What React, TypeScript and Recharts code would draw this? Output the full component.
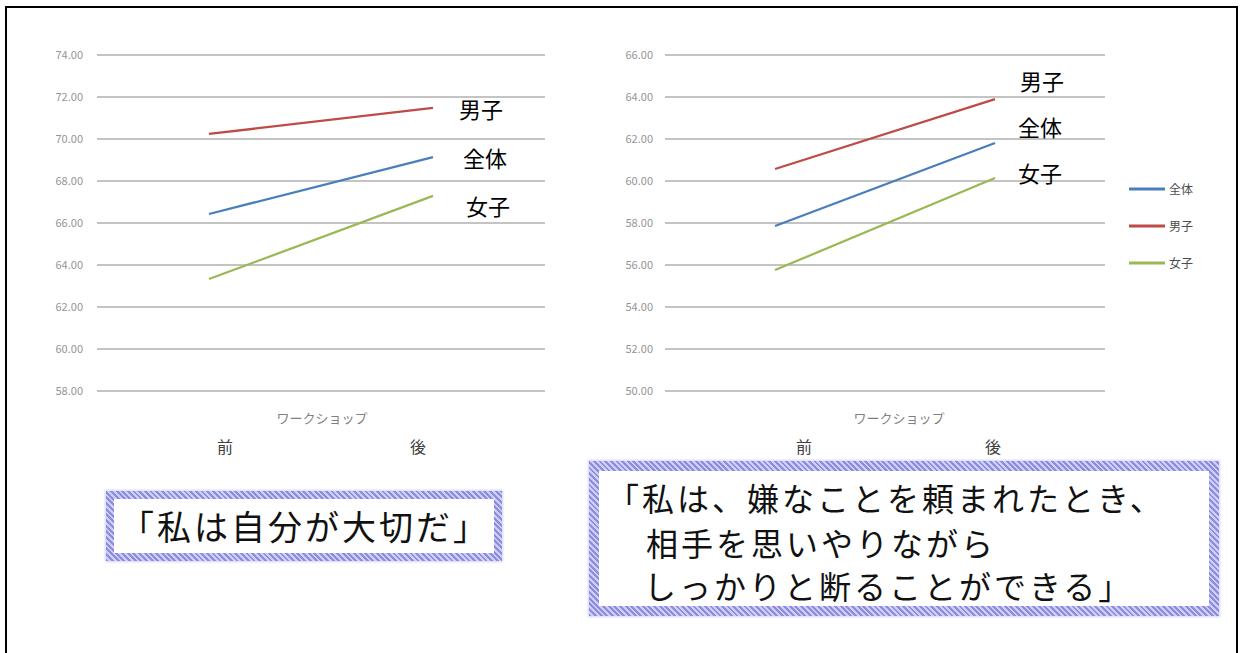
import React from 'react';
import { LineChart, Line, XAxis, YAxis, CartesianGrid, Legend, Label } from 'recharts';

const categories = ['前', '後'];
const seriesNames = ['全体', '男子', '女子'];

const leftZentai = [66.43, 69.14];
const leftDanshi = [70.24, 71.48];
const leftJoshi = [63.33, 67.29];
const leftTicks = [58, 60, 62, 64, 66, 68, 70, 72, 74];

const rightZentai = [57.86, 61.81];
const rightDanshi = [60.57, 63.9];
const rightJoshi = [55.76, 60.14];
const rightTicks = [50, 52, 54, 56, 58, 60, 62, 64, 66];

const axisTitle = 'ワークショップ';
const leftCaption = '「私は自分が大切だ」';
const rightCaption = ['「私は、嫌なことを頼まれたとき、', '相手を思いやりながら', 'しっかりと断ることができる」'];

const COLORS: Record<string, string> = { '全体': '#4a7ebb', '男子': '#be4b48', '女子': '#98b954' };
const FONT = '"Noto Sans CJK JP", "Noto Sans", sans-serif';

function buildData(z: number[], d: number[], j: number[]) {
  return categories.map((c, i) => ({ cat: c, '全体': z[i], '男子': d[i], '女子': j[i] }));
}

const leftData = buildData(leftZentai, leftDanshi, leftJoshi);
const rightData = buildData(rightZentai, rightDanshi, rightJoshi);

function endLabel(name: string, dx: number, dy: number) {
  return (p: any) => {
    if (p.index !== 1) return <g key={`d-${name}-${p.index}`} />;
    return (
      <g key={`d-${name}-${p.index}`}>
        <text x={p.cx + dx} y={p.cy + dy} textAnchor="middle" dominantBaseline="central" fontSize={22} fill="#000" fontFamily={FONT}>
          {name}
        </text>
      </g>
    );
  };
}

function catTick(shifts: number[]) {
  return (p: any) => (
    <text x={p.x + shifts[p.index]} y={p.y + 55} textAnchor="middle" dominantBaseline="central" fontSize={16} fill="#404040" fontFamily={FONT}>
      {p.payload.value}
    </text>
  );
}

const LegendContent = () => (
  <div style={{ fontFamily: FONT }}>
    {seriesNames.map((n) => (
      <div key={n} style={{ display: 'flex', alignItems: 'center', height: 37 }}>
        <svg width={38} height={6}>
          <line x1={1} y1={3} x2={37} y2={3} stroke={COLORS[n]} strokeWidth={3} />
        </svg>
        <span style={{ fontSize: 12, color: '#4d4d4d', marginLeft: 3 }}>{n}</span>
      </div>
    ))}
  </div>
);

type PanelProps = {
  data: any[];
  ticks: number[];
  width: number;
  yWidth: number;
  right: number;
  tickMargin: number;
  shifts: number[];
  titleDx: number;
  offsets: Record<string, [number, number]>;
  legend?: boolean;
};

function Panel({ data, ticks, width, yWidth, right, tickMargin, shifts, titleDx, offsets, legend }: PanelProps) {
  return (
    <LineChart width={width} height={470} data={data} margin={{ top: 55, right, bottom: 19, left: 0 }}>
      <CartesianGrid vertical={false} stroke="#c4c4c4" strokeWidth={2} />
      <XAxis dataKey="cat" scale="band" axisLine={false} tickLine={false} tickSize={0} tickMargin={0} height={60} tick={catTick(shifts)} interval={0}>
        <Label value={axisTitle} position="insideTop" offset={23} dx={titleDx} fontSize={13} fill="#808080" fontFamily={FONT} />
      </XAxis>
      <YAxis
        type="number"
        domain={[ticks[0], ticks[ticks.length - 1]]}
        ticks={ticks}
        width={yWidth}
        axisLine={false}
        tickLine={false}
        tickSize={0}
        tickMargin={tickMargin}
        tickFormatter={(v: number) => v.toFixed(2)}
        tick={{ fontSize: 11, fill: '#959595', fontFamily: FONT }}
      />
      {legend && (
        <Legend layout="vertical" align="center" verticalAlign="middle" content={<LegendContent />} wrapperStyle={{ left: 568, top: 170, width: 90, height: 120 }} />
      )}
      {seriesNames.map((n) => (
        <Line
          key={n}
          type="linear"
          dataKey={n}
          stroke={COLORS[n]}
          strokeWidth={2.25}
          dot={endLabel(n, offsets[n][0], offsets[n][1])}
          activeDot={false}
          isAnimationActive={false}
        />
      ))}
    </LineChart>
  );
}

const speckle: React.CSSProperties = {
  position: 'absolute',
  background: 'repeating-linear-gradient(45deg, #8c8ce0 0 2px, #cfcff5 2px 4px), #b4b4ec',
  padding: 8,
  boxSizing: 'border-box',
  boxShadow: '0 0 2px 1px #d4d4f6',
};

export default function App() {
  return (
    <div style={{ position: 'absolute', left: 0, top: 0, width: 1240, height: 653, overflow: 'hidden', background: '#fff', fontFamily: FONT }}>
      <div style={{ position: 'absolute', left: 5, top: 6, width: 1233, height: 670, border: '2px solid #000', boxSizing: 'border-box' }} />
      <div style={{ position: 'absolute', left: 0, top: 0 }}>
        <Panel
          data={leftData}
          ticks={leftTicks}
          width={560}
          yWidth={97}
          right={15}
          tickMargin={14}
          shifts={[16, -15]}
          titleDx={1}
          offsets={{ '男子': [48, 0], '全体': [52, 0], '女子': [55, 9] }}
        />
      </div>
      <div style={{ position: 'absolute', left: 560, top: 0 }}>
        <Panel
          data={rightData}
          ticks={rightTicks}
          width={680}
          yWidth={105}
          right={135}
          tickMargin={12}
          shifts={[29, -2]}
          titleDx={14}
          offsets={{ '男子': [47, -19], '全体': [45, -17], '女子': [45, -6] }}
          legend
        />
      </div>
      <div style={{ ...speckle, left: 106, top: 491, width: 396, height: 70 }}>
        <div style={{ width: '100%', height: '100%', background: '#fff', display: 'flex', alignItems: 'center', justifyContent: 'center' }}>
          <span style={{ fontSize: 34, letterSpacing: 3, color: '#111', whiteSpace: 'nowrap', lineHeight: 1, marginLeft: 2 }}>{leftCaption}</span>
        </div>
      </div>
      <div style={{ ...speckle, left: 589, top: 461, width: 630, height: 155, padding: 10 }}>
        <div style={{ width: '100%', height: '100%', background: '#fff', position: 'relative' }}>
          {rightCaption.map((t, i) => (
            <div
              key={i}
              style={{
                position: 'absolute',
                left: [607, 646, 644][i] - 599,
                top: [497, 542, 585][i] - 471 - 16,
                fontSize: 32,
                letterSpacing: 3,
                lineHeight: '32px',
                color: '#111',
                whiteSpace: 'nowrap',
              }}
            >
              {t}
            </div>
          ))}
        </div>
      </div>
    </div>
  );
}
